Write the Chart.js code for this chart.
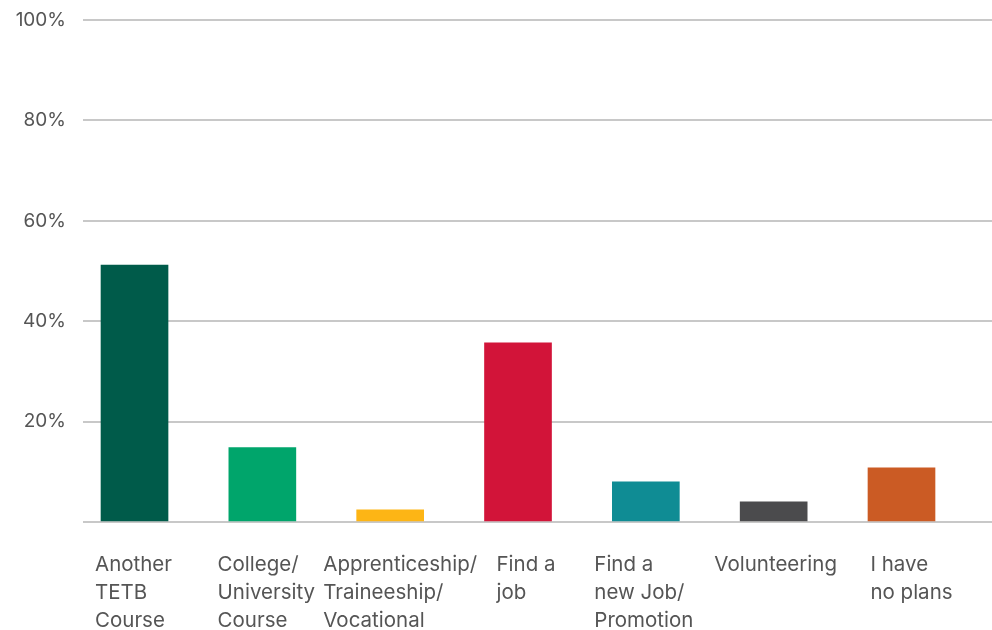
<!DOCTYPE html>
<html lang="en">
<head>
    <meta charset="UTF-8">
    <title>Plans after course</title>
    <script src="https://cdn.jsdelivr.net/npm/chart.js"></script>
    <style>
        body { margin: 0; background: #fff; }
        .container { width: 992px; height: 630px; position: relative; }
    </style>
</head>
<body>
<div class="container">
    <canvas id="plansChart"></canvas>
</div>

<script>
    const categories = [
        ['Another', 'TETB', 'Course'],
        ['College/', 'University', 'Course'],
        ['Apprenticeship/', 'Traineeship/', 'Vocational'],
        ['Find a', 'job'],
        ['Find a', 'new Job/', 'Promotion'],
        ['Volunteering'],
        ['I have', 'no plans']
    ];
    const percentages = [51.2, 14.8, 2.4, 35.7, 8.0, 4.0, 10.8];
    const barColors = ['#005b4a', '#00a56b', '#fdb515', '#d21439', '#0f8c94', '#4b4b4d', '#cb5b24'];
    const yTicks = [0, 20, 40, 60, 80, 100];

    const labelFont = '20.5px Inter';
    const textColor = '#555555';
    // small horizontal tweaks for the wrapped label blocks
    const labelNudge = [-1, 4, 10, 8, -2, 2, 10];

    // category labels: lines left-aligned inside a block centred on each bar
    const categoryLabels = {
        id: 'categoryLabels',
        afterDraw(chart) {
            const ctx = chart.ctx;
            const xScale = chart.scales.x;
            const top = chart.chartArea.bottom + 49;
            ctx.save();
            ctx.font = labelFont;
            ctx.fillStyle = textColor;
            ctx.textAlign = 'left';
            ctx.textBaseline = 'alphabetic';
            categories.forEach((lines, i) => {
                const cx = xScale.getPixelForValue(i) + labelNudge[i];
                const w = Math.max(...lines.map(l => ctx.measureText(l).width));
                lines.forEach((line, k) => {
                    ctx.fillText(line, cx - w / 2, top + k * 28);
                });
            });
            ctx.restore();
        }
    };

    const ctx = document.getElementById('plansChart').getContext('2d');
    new Chart(ctx, {
        type: 'bar',
        data: {
            datasets: [{
                data: percentages.map((v, i) => ({ x: i, y: v })),
                backgroundColor: barColors,
                barThickness: 67,
                borderWidth: 0
            }]
        },
        options: {
            responsive: true,
            maintainAspectRatio: false,
            animation: false,
            layout: { padding: { top: 20, right: 0, bottom: 108, left: 0 } },
            plugins: {
                legend: { display: false },
                tooltip: { enabled: false }
            },
            scales: {
                x: {
                    type: 'linear',
                    display: false,
                    offset: false,
                    min: -0.403,
                    max: 6.708
                },
                y: {
                    min: yTicks[0],
                    max: yTicks[yTicks.length - 1],
                    afterBuildTicks: scale => {
                        scale.ticks = yTicks.map(v => ({ value: v }));
                    },
                    afterFit: scale => {
                        scale.width = 83;
                        scale.paddingTop = 0;
                        scale.paddingBottom = 0;
                    },
                    ticks: {
                        padding: 17,
                        color: textColor,
                        font: { family: 'Inter', size: 19 },
                        callback: v => v === 0 ? '' : v + '%'
                    },
                    grid: { color: '#c8c8c8', lineWidth: 2, drawTicks: false },
                    border: { display: false }
                }
            }
        },
        plugins: [categoryLabels]
    });
</script>
</body>
</html>
